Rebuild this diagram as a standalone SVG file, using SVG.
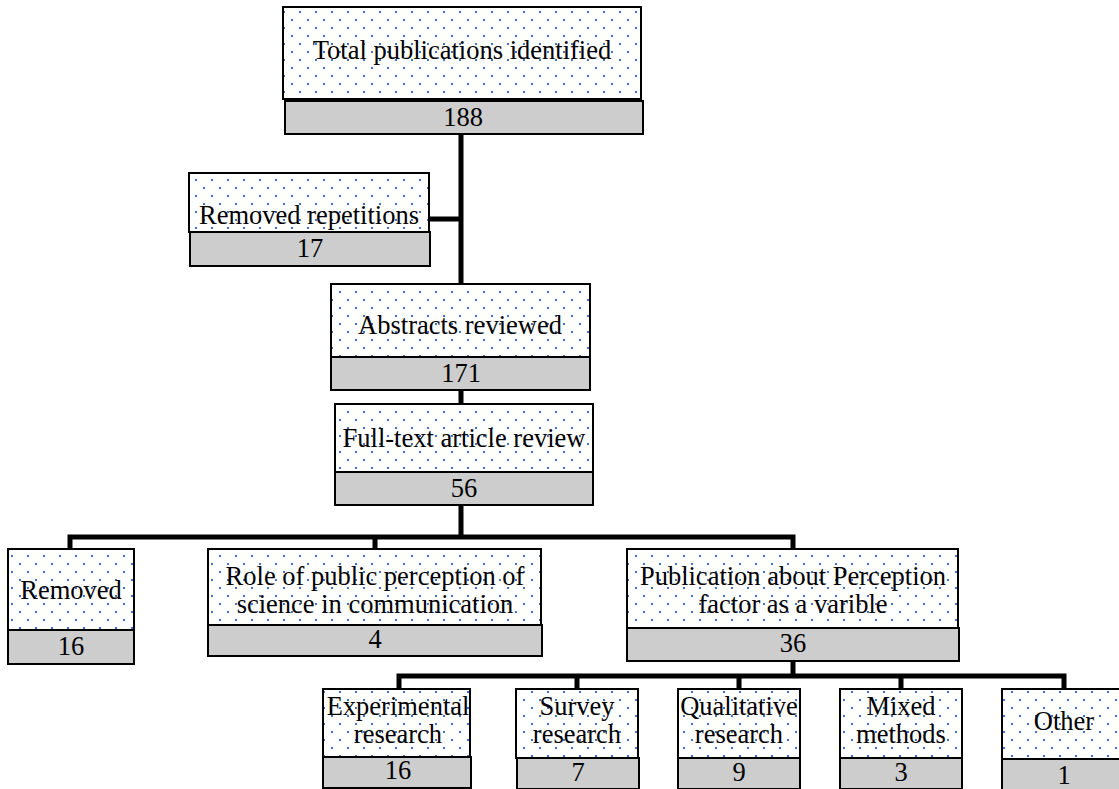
<svg xmlns="http://www.w3.org/2000/svg" width="1119" height="789" viewBox="0 0 1119 789">
<defs>
<pattern id="dots" x="0" y="0" width="16" height="16" patternUnits="userSpaceOnUse">
<rect x="3" y="3" width="2" height="2" fill="#4472C4"/>
<rect x="11" y="11" width="2" height="2" fill="#4472C4"/>
</pattern>
<style>
.lbl{fill:#ffffff;stroke:#000;stroke-width:2}
.dot{fill:url(#dots);stroke:none}
.num{fill:#cdcdcd;stroke:#000;stroke-width:2}
.t{font-family:"Liberation Serif","Times New Roman",serif;font-size:26.5px;fill:#000;text-anchor:middle}
.c{fill:none;stroke:#000;stroke-width:5;stroke-linejoin:miter}
</style>
</defs>
<rect width="1119" height="789" fill="#fff"/>
<g id="connectors">
<path class="c" d="M461 134V284M429 219H461M461 390V404M461 505V537M70 549V537H793V549M375 537V549M793 661V676M399 689V676H1064V689M577 676V689M739 676V689M901 676V689"/>
</g>
<g id="n-total">
<rect class="lbl" x="283" y="7" width="358" height="92"/><rect class="dot" x="284" y="8" width="356" height="90"/>
<text class="t" x="462" y="59">Total publications identified</text>
<rect class="num" x="285" y="101" width="358" height="33"/>
<text class="t" x="463" y="126">188</text>
</g>
<g id="n-repetitions">
<rect class="lbl" x="189" y="173" width="240" height="59"/><rect class="dot" x="190" y="174" width="238" height="57"/>
<text class="t" x="309" y="224">Removed repetitions</text>
<rect class="num" x="190" y="232" width="240" height="34"/>
<text class="t" x="310" y="257">17</text>
</g>
<g id="n-abstracts">
<rect class="lbl" x="331" y="284" width="259" height="73"/><rect class="dot" x="332" y="285" width="257" height="71"/>
<text class="t" x="460" y="334">Abstracts reviewed</text>
<rect class="num" x="331" y="357" width="259" height="33"/>
<text class="t" x="461" y="382">171</text>
</g>
<g id="n-fulltext">
<rect class="lbl" x="335" y="404" width="258" height="68"/><rect class="dot" x="336" y="405" width="256" height="66"/>
<text class="t" x="464" y="447">Full-text article review</text>
<rect class="num" x="335" y="472" width="258" height="33"/>
<text class="t" x="464" y="497">56</text>
</g>
<g id="n-removed">
<rect class="lbl" x="8" y="549" width="126" height="81"/><rect class="dot" x="9" y="550" width="124" height="79"/>
<text class="t" x="71" y="599">Removed</text>
<rect class="num" x="8" y="630" width="126" height="34"/>
<text class="t" x="71" y="655">16</text>
</g>
<g id="n-role">
<rect class="lbl" x="208" y="549" width="333" height="76"/><rect class="dot" x="209" y="550" width="331" height="74"/>
<text class="t" x="375" y="585">Role of public perception of</text>
<text class="t" x="375" y="613">science in communication</text>
<rect class="num" x="208" y="625" width="334" height="31"/>
<text class="t" x="375" y="648">4</text>
</g>
<g id="n-publication">
<rect class="lbl" x="627" y="549" width="331" height="79"/><rect class="dot" x="628" y="550" width="329" height="77"/>
<text class="t" x="793" y="585">Publication about Perception</text>
<text class="t" x="793" y="613">factor as a varible</text>
<rect class="num" x="627" y="628" width="332" height="33"/>
<text class="t" x="793" y="652">36</text>
</g>
<g id="n-experimental">
<rect class="lbl" x="323" y="689" width="147" height="68"/><rect class="dot" x="324" y="690" width="145" height="66"/>
<text class="t" x="398" y="715">Experimental</text>
<text class="t" x="398" y="743">research</text>
<rect class="num" x="323" y="757" width="148" height="31"/>
<text class="t" x="398" y="779">16</text>
</g>
<g id="n-survey">
<rect class="lbl" x="516" y="689" width="122" height="69"/><rect class="dot" x="517" y="690" width="120" height="67"/>
<text class="t" x="577" y="715">Survey</text>
<text class="t" x="577" y="743">research</text>
<rect class="num" x="517" y="758" width="122" height="31"/>
<text class="t" x="578" y="781">7</text>
</g>
<g id="n-qualitative">
<rect class="lbl" x="678" y="689" width="122" height="69"/><rect class="dot" x="679" y="690" width="120" height="67"/>
<text class="t" x="739" y="715">Qualitative</text>
<text class="t" x="739" y="743">research</text>
<rect class="num" x="678" y="758" width="122" height="31"/>
<text class="t" x="739" y="781">9</text>
</g>
<g id="n-mixed">
<rect class="lbl" x="840" y="689" width="122" height="69"/><rect class="dot" x="841" y="690" width="120" height="67"/>
<text class="t" x="901" y="715">Mixed</text>
<text class="t" x="901" y="743">methods</text>
<rect class="num" x="840" y="758" width="122" height="31"/>
<text class="t" x="901" y="781">3</text>
</g>
<g id="n-other">
<rect class="lbl" x="1002" y="689" width="124" height="70"/><rect class="dot" x="1003" y="690" width="122" height="68"/>
<text class="t" x="1064" y="730">Other</text>
<rect class="num" x="1002" y="759" width="124" height="31"/>
<text class="t" x="1064" y="784">1</text>
</g>
</svg>
